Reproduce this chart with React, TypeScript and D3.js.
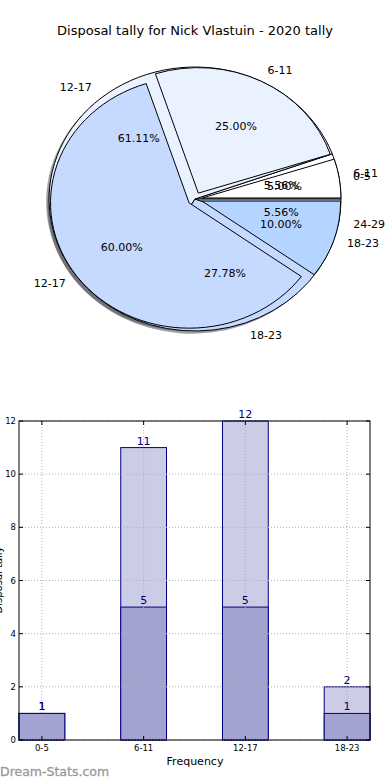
import React from "react";
import * as d3 from "d3";

const title = "Disposal tally for Nick Vlastuin - 2020 tally";

// Pie A (drawn on top)
const pieALabels = ["0-5", "6-11", "12-17", "18-23"];
const pieAValues = [1, 5, 12, 2];
// Pie B (drawn underneath)
const pieBLabels = ["6-11", "12-17", "18-23", "24-29"];
const pieBValues = [1, 11, 5, 1];
const pieColors = ["#ffffff", "#ebf2ff", "#c6d9ff", "#b4d5ff"];

// Bar chart
const barCategories = ["0-5", "6-11", "12-17", "18-23"];
const totalValues = [1, 11, 12, 2];
const seriesValues = [1, 5, 5, 1];
const yTicks = [0, 2, 4, 6, 8, 10, 12];

const FONT = "DejaVu Sans, Verdana, sans-serif";

type PieSpec = {
  labels: string[];
  values: number[];
  radius: number;
  explode: number;
};

const cx = 195;
const cy = 199;
const rx = 146;
const ry = 132;

function makeSlices(spec: PieSpec) {
  const pie = d3
    .pie<number>()
    .sort(null)
    .value((d) => d)
    .startAngle(Math.PI / 2)
    .endAngle(Math.PI / 2 - 2 * Math.PI);
  const arcs = pie(spec.values);
  const total = d3.sum(spec.values);
  return arcs.map((a, i) => {
    const mid = (a.startAngle + a.endAngle) / 2;
    const ux = Math.sin(mid);
    const uy = -Math.cos(mid);
    const arcGen = d3.arc<any>().innerRadius(0).outerRadius(spec.radius);
    return {
      i,
      label: spec.labels[i],
      pct: ((spec.values[i] / total) * 100).toFixed(2) + "%",
      path: arcGen({ startAngle: a.startAngle, endAngle: a.endAngle }) as string,
      ox: spec.explode * ux,
      oy: spec.explode * uy,
      ux,
      uy,
      labelDist: spec.explode + 1.1 * spec.radius,
      pctDist: spec.explode + 0.6 * spec.radius,
    };
  });
}

function shade(c: string) {
  const rgb = d3.rgb(c);
  return d3.rgb(rgb.r * 0.3, rgb.g * 0.3, rgb.b * 0.3).formatHex();
}

export default function App() {
  const specB: PieSpec = { labels: pieBLabels, values: pieBValues, radius: 1, explode: 0 };
  const specA: PieSpec = { labels: pieALabels, values: pieAValues, radius: 0.95, explode: 0.05 };
  const slicesB = makeSlices(specB);
  const slicesA = makeSlices(specA);

  const x = d3
    .scaleBand<string>()
    .domain(barCategories)
    .range([19, 370])
    .paddingInner(0.55)
    .paddingOuter(0);
  const y = d3.scaleLinear().domain([0, 12]).range([740, 421]);
  const bw = x.bandwidth();

  const shadowOff = { dx: -0.02, dy: 0.02 };

  const wedge = (s: any, key: string) => (
    <g key={key} transform={`translate(${s.ox},${s.oy})`}>
      <path
        d={s.path}
        fill={pieColors[s.i]}
        stroke="#000"
        strokeWidth={1}
        vectorEffect="non-scaling-stroke"
        strokeLinejoin="miter"
      />
    </g>
  );
  const shadow = (s: any, key: string) => (
    <g key={key} transform={`translate(${s.ox + shadowOff.dx},${s.oy + shadowOff.dy})`}>
      <path d={s.path} fill={shade(pieColors[s.i])} fillOpacity={0.5} stroke="none" />
    </g>
  );

  const pieTexts = (slices: any[], pfx: string) =>
    slices.map((s) => {
      const lx = cx + s.ux * s.labelDist * rx;
      const ly = cy + s.uy * s.labelDist * ry;
      const px = cx + s.ux * s.pctDist * rx;
      const py = cy + s.uy * s.pctDist * ry;
      return (
        <g key={pfx + s.i}>
          <text
            x={lx}
            y={ly}
            textAnchor={s.ux >= 0 ? "start" : "end"}
            dominantBaseline="central"
            fontSize={11}
            fontFamily={FONT}
            fill="#000"
          >
            {s.label}
          </text>
          <text
            x={px}
            y={py}
            textAnchor="middle"
            dominantBaseline="central"
            fontSize={11}
            fontFamily={FONT}
            fill="#000"
          >
            {s.pct}
          </text>
        </g>
      );
    });

  return (
    <svg
      width={390}
      height={780}
      style={{ position: "absolute", left: 0, top: 0, background: "#fff" }}
    >
      <rect x={0} y={0} width={390} height={780} fill="#fff" />
      <text
        x={195}
        y={30}
        textAnchor="middle"
        dominantBaseline="central"
        fontSize={13}
        fontFamily={FONT}
        fill="#000"
      >
        {title}
      </text>

      <g transform={`translate(${cx},${cy}) scale(${rx},${ry})`}>
        {slicesB.map((s) => shadow(s, "sb" + s.i))}
        {slicesA.map((s) => shadow(s, "sa" + s.i))}
        {slicesB.map((s) => wedge(s, "wb" + s.i))}
        {slicesA.map((s) => wedge(s, "wa" + s.i))}
      </g>
      {pieTexts(slicesB, "tb")}
      {pieTexts(slicesA, "ta")}

      <g>
        {barCategories.map((c, i) => (
          <rect
            key={"t" + c}
            x={x(c)!}
            y={y(totalValues[i])}
            width={bw}
            height={y(0) - y(totalValues[i])}
            fill="#ccccE6"
            stroke="#000080"
            strokeWidth={1}
          />
        ))}
        {barCategories.map((c, i) => (
          <rect
            key={"s" + c}
            x={x(c)!}
            y={y(seriesValues[i])}
            width={bw}
            height={y(0) - y(seriesValues[i])}
            fill="#a3a3d1"
            stroke="#000080"
            strokeWidth={1}
          />
        ))}
        {yTicks.map((t) => (
          <line
            key={"gy" + t}
            x1={19}
            x2={370}
            y1={y(t)}
            y2={y(t)}
            stroke="#b0b0b0"
            strokeWidth={1}
            strokeDasharray="1,2"
          />
        ))}
        {barCategories.map((c) => (
          <line
            key={"gx" + c}
            x1={x(c)! + bw / 2}
            x2={x(c)! + bw / 2}
            y1={421}
            y2={740}
            stroke="#b0b0b0"
            strokeWidth={1}
            strokeDasharray="1,2"
          />
        ))}
        <rect x={19} y={421} width={351} height={319} fill="none" stroke="#000" strokeWidth={1} />
        {yTicks.map((t) => (
          <g key={"ty" + t}>
            <line x1={19} x2={23} y1={y(t)} y2={y(t)} stroke="#000" />
            <line x1={366} x2={370} y1={y(t)} y2={y(t)} stroke="#000" />
            <text
              x={16}
              y={y(t)}
              textAnchor="end"
              dominantBaseline="central"
              fontSize={8.5}
              fontFamily={FONT}
              fill="#000"
            >
              {t}
            </text>
          </g>
        ))}
        {barCategories.map((c) => (
          <g key={"tx" + c}>
            <line x1={x(c)! + bw / 2} x2={x(c)! + bw / 2} y1={740} y2={736} stroke="#000" />
            <line x1={x(c)! + bw / 2} x2={x(c)! + bw / 2} y1={421} y2={425} stroke="#000" />
            <text
              x={x(c)! + bw / 2}
              y={748}
              textAnchor="middle"
              dominantBaseline="central"
              fontSize={8.5}
              fontFamily={FONT}
              fill="#000"
            >
              {c}
            </text>
          </g>
        ))}
        {barCategories.map((c, i) => (
          <text
            key={"vt" + c}
            x={x(c)! + bw / 2}
            y={y(totalValues[i]) - 3}
            textAnchor="middle"
            fontSize={11}
            fontFamily={FONT}
            fill="#000080"
          >
            {totalValues[i]}
          </text>
        ))}
        {barCategories.map((c, i) => (
          <text
            key={"vs" + c}
            x={x(c)! + bw / 2}
            y={y(seriesValues[i]) - 3}
            textAnchor="middle"
            fontSize={11}
            fontFamily={FONT}
            fill="#000080"
          >
            {seriesValues[i]}
          </text>
        ))}
        <text
          x={195}
          y={761}
          textAnchor="middle"
          dominantBaseline="central"
          fontSize={11}
          fontFamily={FONT}
          fill="#000"
        >
          Frequency
        </text>
        <text
          transform="translate(-2,580) rotate(-90)"
          textAnchor="middle"
          dominantBaseline="central"
          fontSize={10}
          fontFamily={FONT}
          fill="#000"
        >
          Disposal tally
        </text>
      </g>
      <text
        x={0}
        y={771}
        dominantBaseline="central"
        fontSize={12.5}
        fontWeight="normal"
        fontFamily={FONT}
        fill="#999"
        stroke="#999"
        strokeWidth={0.3}
      >
        Dream-Stats.com
      </text>
    </svg>
  );
}
